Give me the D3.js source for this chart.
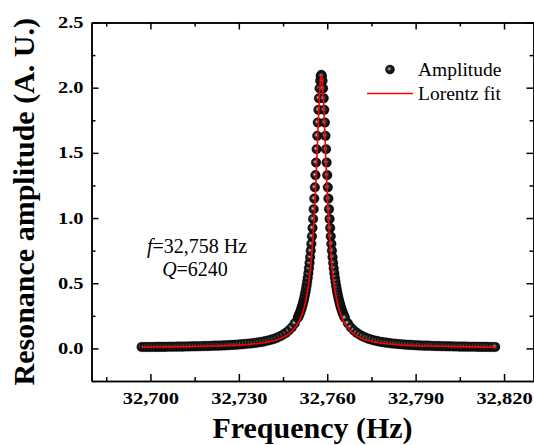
<!DOCTYPE html>
<html><head><meta charset="utf-8">
<script src="https://cdn.jsdelivr.net/npm/d3@7/dist/d3.min.js"></script>
<style>body{margin:0;background:#fff}svg{display:block}text{font-family:"Liberation Serif","Times New Roman",serif}</style>
</head><body><svg id="c" width="534" height="445"></svg>
<script>
// ---- data ----
const dataFreqLeft = [32697,32698,32699,32700,32701,32702,32703,32704,32705,32706,32707,32708,32709,32710,32711,32712,32713,32714,32715,32716,32717,32718,32719,32720,32721,32722,32723,32724,32725,32726,32727,32728,32729,32730,32731,32732,32733,32734,32735,32736,32737,32738,32739,32740,32741,32742,32743,32744,32745,32746,32747,32748,32749];
const dataAmpLeft = [0.011,0.011,0.011,0.011,0.011,0.012,0.012,0.012,0.012,0.013,0.013,0.013,0.014,0.014,0.014,0.015,0.015,0.016,0.016,0.017,0.017,0.018,0.018,0.019,0.020,0.021,0.021,0.022,0.023,0.024,0.026,0.027,0.028,0.030,0.032,0.034,0.036,0.038,0.041,0.044,0.047,0.051,0.056,0.061,0.067,0.074,0.083,0.093,0.105,0.120,0.139,0.162,0.193];
const dataFreqPeak = [32750.0,32750.2,32750.4,32750.6,32750.8,32751.0,32751.2,32751.4,32751.6,32751.8,32752.0,32752.2,32752.4,32752.6,32752.8,32753.0,32753.2,32753.4,32753.6,32753.8,32754.0,32754.2,32754.4,32754.6,32754.8,32755.0,32755.2,32755.4,32755.6,32755.8,32756.0,32756.2,32756.4,32756.6,32756.8,32757.0,32757.2,32757.4,32757.6,32757.8,32758.0,32758.2,32758.4,32758.6,32758.8,32759.0,32759.2,32759.4,32759.6,32759.8,32760.0,32760.2,32760.4,32760.6,32760.8,32761.0,32761.2,32761.4,32761.6,32761.8,32762.0,32762.2,32762.4,32762.6,32762.8,32763.0,32763.2,32763.4,32763.6,32763.8,32764.0,32764.2,32764.4,32764.6,32764.8,32765.0,32765.2,32765.4,32765.6,32765.8,32766.0];
const dataAmpPeak = [0.234,0.244,0.254,0.265,0.277,0.290,0.303,0.318,0.333,0.350,0.368,0.388,0.409,0.431,0.456,0.483,0.512,0.543,0.577,0.615,0.656,0.700,0.749,0.802,0.860,0.924,0.993,1.068,1.149,1.236,1.329,1.426,1.528,1.631,1.733,1.830,1.919,1.995,2.053,2.089,2.098,2.089,2.053,1.995,1.919,1.830,1.733,1.631,1.528,1.426,1.329,1.236,1.149,1.068,0.993,0.924,0.860,0.802,0.749,0.700,0.656,0.615,0.577,0.543,0.512,0.483,0.456,0.431,0.409,0.388,0.368,0.350,0.333,0.318,0.303,0.290,0.277,0.265,0.254,0.244,0.234];
const dataFreqRight = [32767,32768,32769,32770,32771,32772,32773,32774,32775,32776,32777,32778,32779,32780,32781,32782,32783,32784,32785,32786,32787,32788,32789,32790,32791,32792,32793,32794,32795,32796,32797,32798,32799,32800,32801,32802,32803,32804,32805,32806,32807,32808,32809,32810,32811,32812,32813,32814,32815,32816,32817];
const dataAmpRight = [0.193,0.162,0.139,0.120,0.105,0.093,0.083,0.074,0.067,0.061,0.056,0.051,0.047,0.044,0.041,0.038,0.036,0.034,0.032,0.030,0.028,0.027,0.026,0.024,0.023,0.022,0.021,0.021,0.020,0.019,0.018,0.018,0.017,0.017,0.016,0.016,0.015,0.015,0.014,0.014,0.014,0.013,0.013,0.013,0.012,0.012,0.012,0.012,0.011,0.011,0.011];

const fitFreq = [32697,32708,32718,32723,32728,32733,32738,32740,32742,32744,32746,32748,32749,32750,32751,32752,32753,32753.5,32754,32754.5,32755,32755.5,32756,32756.25,32756.5,32756.75,32757,32757.25,32757.5,32757.75,32758,32758.25,32758.5,32758.75,32759,32759.25,32759.5,32759.75,32760,32760.5,32761,32761.5,32762,32762.5,32763,32764,32765,32766,32767,32768,32770,32772,32774,32776,32778,32783,32788,32793,32798,32808,32817];
const fitAmp = [0.010,0.012,0.016,0.019,0.023,0.030,0.042,0.050,0.061,0.075,0.097,0.131,0.156,0.189,0.235,0.301,0.398,0.465,0.549,0.657,0.795,0.973,1.198,1.328,1.468,1.613,1.757,1.890,1.998,2.070,2.095,2.070,1.998,1.890,1.757,1.613,1.468,1.328,1.198,0.973,0.795,0.657,0.549,0.465,0.398,0.301,0.235,0.189,0.156,0.131,0.097,0.075,0.061,0.050,0.042,0.030,0.023,0.019,0.016,0.012,0.010];

const xMajorTicks = [32700,32730,32760,32790,32820];
const xMinorTicks = [32685,32715,32745,32775,32805];
const yMajorTicks = [0.0,0.5,1.0,1.5,2.0,2.5];
const yMinorTicks = [0.25,0.75,1.25,1.75,2.25];
const xDomain = [32680,32830];
const yDomain = [-0.25,2.5];
const seriesNames = ["Amplitude","Lorentz fit"];
const xTitle = "Frequency (Hz)";
const yTitle = "Resonance amplitude (A. U.)";
const annotation = ["=32,758 Hz","=6240"];

// ---- build ----
const svg = d3.select("#c");
const L=91.5, R=533.5, T=22.5, B=381;
const x = d3.scaleLinear().domain(xDomain).range([L,R]);
const y = d3.scaleLinear().domain(yDomain).range([B,T]);
const STRETCH = 1.28;

const defs = svg.append("defs");
const g = defs.append("radialGradient").attr("id","ball").attr("cx","0.45").attr("cy","0.45").attr("r","0.6").attr("fx","0.4").attr("fy","0.42");
g.append("stop").attr("offset","0").attr("stop-color","#e8e8e8");
g.append("stop").attr("offset","0.13").attr("stop-color","#8c8c8c");
g.append("stop").attr("offset","0.4").attr("stop-color","#202020");
g.append("stop").attr("offset","1").attr("stop-color","#000");

const points = [];
dataFreqLeft.forEach((f,i)=>points.push([f,dataAmpLeft[i]]));
dataFreqPeak.forEach((f,i)=>points.push([f,dataAmpPeak[i]]));
dataFreqRight.forEach((f,i)=>points.push([f,dataAmpRight[i]]));

svg.append("g").selectAll("circle").data(points).join("circle")
  .attr("cx",d=>x(d[0])).attr("cy",d=>y(d[1])).attr("r",4.8)
  .attr("fill","url(#ball)").attr("stroke","#000").attr("stroke-width",0.4);

const fit = fitFreq.map((f,i)=>[f,fitAmp[i]]);
svg.append("path").datum(fit)
  .attr("d", d3.line().x(d=>x(d[0])).y(d=>y(d[1])).curve(d3.curveMonotoneX))
  .attr("fill","none").attr("stroke","#ff0000").attr("stroke-width",1.6);

// axes
function styleAxis(sel){
  sel.selectAll("path,line").attr("stroke","#000").attr("stroke-width",1.5);
  sel.selectAll("text").attr("font-family","'Liberation Serif',serif").attr("font-weight","bold").attr("font-size","16px").attr("fill","#000")
    .attr("transform",`scale(${STRETCH},1)`);
}
const fmt = d3.format(",");
svg.append("g").attr("transform",`translate(0,${B})`)
  .call(d3.axisBottom(x).tickValues(xMajorTicks).tickSize(-7).tickSizeOuter(0).tickPadding(12).tickFormat(fmt)).call(styleAxis);
svg.append("g").attr("transform",`translate(0,${B})`)
  .call(d3.axisBottom(x).tickValues(xMinorTicks).tickSize(-4).tickSizeOuter(0).tickFormat("")).call(styleAxis);
svg.append("g").attr("transform",`translate(0,${T})`)
  .call(d3.axisTop(x).tickValues(xMajorTicks).tickSize(-7).tickSizeOuter(0).tickFormat("")).call(styleAxis);
svg.append("g").attr("transform",`translate(0,${T})`)
  .call(d3.axisTop(x).tickValues(xMinorTicks).tickSize(-4).tickSizeOuter(0).tickFormat("")).call(styleAxis);
svg.append("g").attr("transform",`translate(${L},0)`)
  .call(d3.axisLeft(y).tickValues(yMajorTicks).tickSize(-7).tickSizeOuter(0).tickPadding(8/STRETCH).tickFormat(d3.format(".1f"))).call(styleAxis);
svg.append("g").attr("transform",`translate(${L},0)`)
  .call(d3.axisLeft(y).tickValues(yMinorTicks).tickSize(-4).tickSizeOuter(0).tickFormat("")).call(styleAxis);
svg.append("g").attr("transform",`translate(${R},0)`)
  .call(d3.axisRight(y).tickValues(yMajorTicks).tickSize(-7).tickSizeOuter(0).tickFormat("")).call(styleAxis);
svg.append("g").attr("transform",`translate(${R},0)`)
  .call(d3.axisRight(y).tickValues(yMinorTicks).tickSize(-4).tickSizeOuter(0).tickFormat("")).call(styleAxis);

// titles
svg.append("text").attr("x",(L+R)/2).attr("y",438).attr("text-anchor","middle")
  .attr("font-size","30px").attr("font-weight","bold").text(xTitle);
svg.append("text").attr("transform",`translate(34,${(T+B)/2}) rotate(-90)`).attr("text-anchor","middle")
  .attr("font-size","30px").attr("font-weight","bold").text(yTitle);

// legend
const lg = svg.append("g");
lg.append("circle").attr("cx",390).attr("cy",69.5).attr("r",4.5).attr("fill","url(#ball)").attr("stroke","#000").attr("stroke-width",0.4);
lg.append("text").attr("x",418).attr("y",76).attr("font-size","19.5px").text(seriesNames[0]);
lg.append("line").attr("x1",367).attr("x2",413).attr("y1",93.5).attr("y2",93.5).attr("stroke","#ff0000").attr("stroke-width",1.6);
lg.append("text").attr("x",418).attr("y",100).attr("font-size","19.5px").text(seriesNames[1]);

// annotation
const a1 = svg.append("text").attr("x",197).attr("y",253).attr("text-anchor","middle").attr("font-size","20px");
a1.append("tspan").attr("font-style","italic").text("f");
a1.append("tspan").text(annotation[0]);
const a2 = svg.append("text").attr("x",195).attr("y",276).attr("text-anchor","middle").attr("font-size","20px");
a2.append("tspan").attr("font-style","italic").text("Q");
a2.append("tspan").text(annotation[1]);
</script></body></html>
